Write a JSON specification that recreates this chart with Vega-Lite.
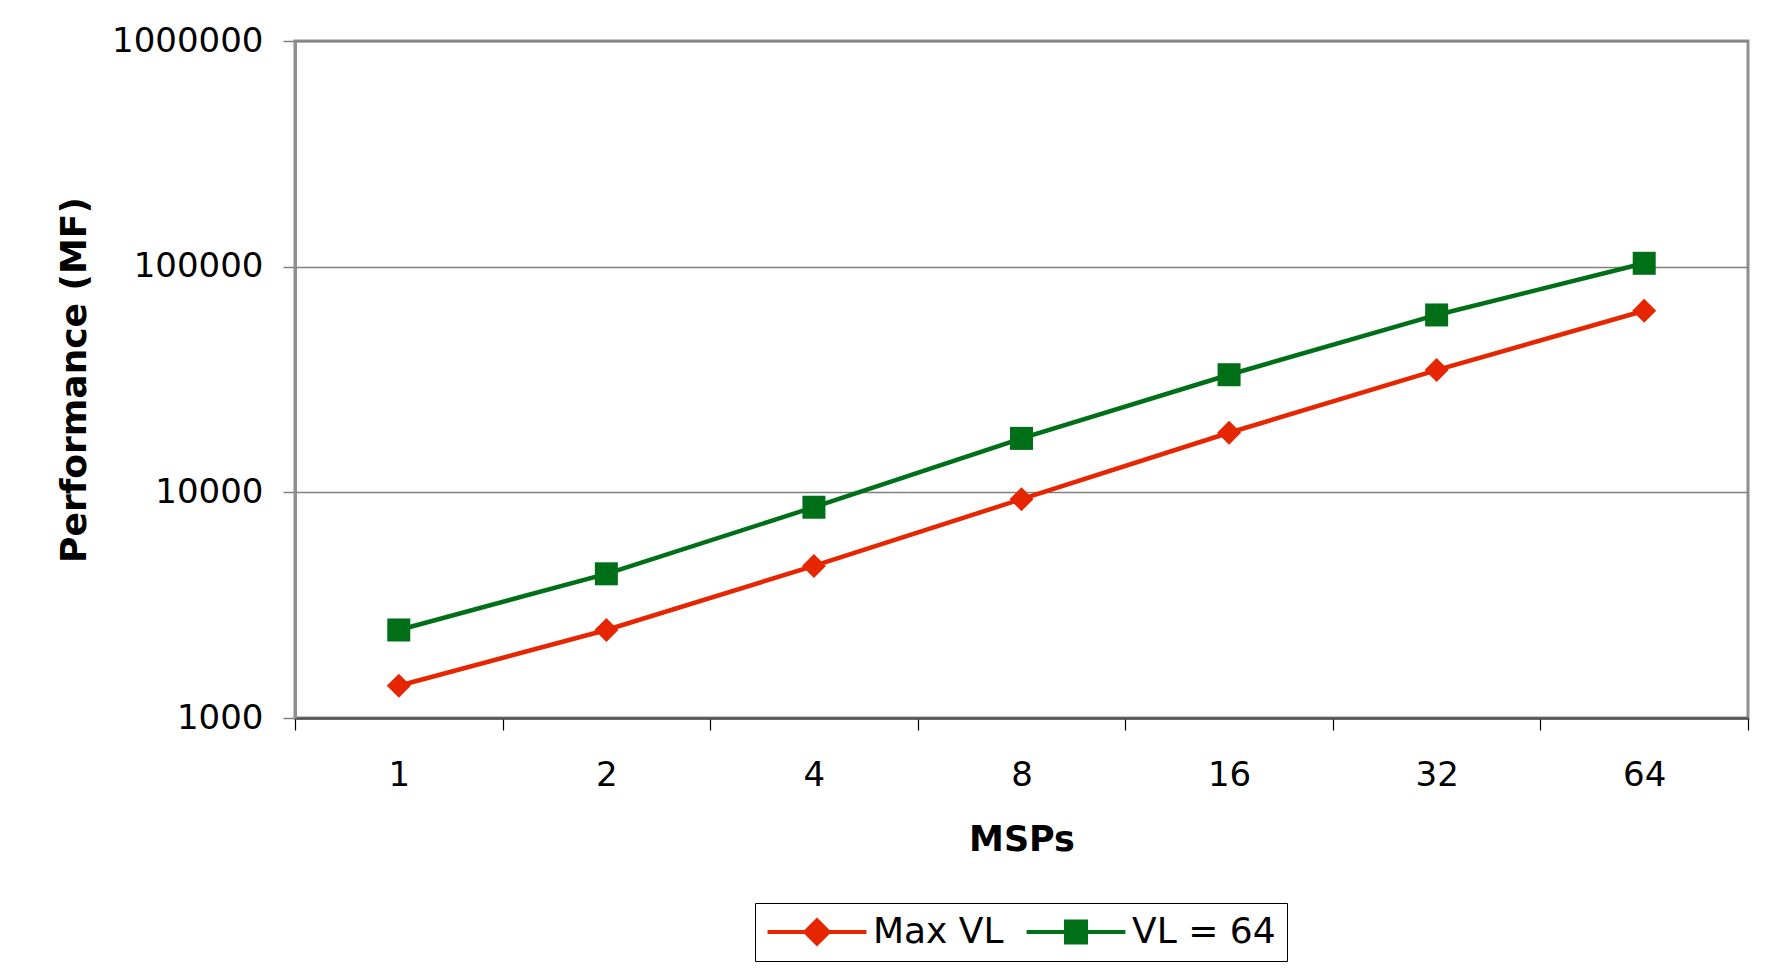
{
  "$schema": "https://vega.github.io/schema/vega-lite/v6.json",
  "width": 1453,
  "height": 677,
  "autosize": {"type": "none"},
  "padding": {"left": 295, "top": 41, "right": 32, "bottom": 251},
  "background": "white",
  "config": {
    "view": {"stroke": "#8f8f8f", "strokeWidth": 3},
    "font": "DejaVu Sans",
    "legend": {
      "orient": "none",
      "legendX": 460,
      "legendY": 862,
      "direction": "horizontal",
      "columns": 2,
      "strokeColor": "black",
      "fillColor": "white",
      "padding": 11,
      "labelFontSize": 36,
      "labelColor": "black",
      "labelFont": "DejaVu Sans",
      "symbolSize": 576,
      "symbolOpacity": 1,
      "symbolStrokeWidth": 0,
      "symbolOffset": 33,
      "labelOffset": 38,
      "columnPadding": 21
    }
  },
  "data": {
    "values": [
      {"msps": 1, "series": "Max VL", "perf": 1390},
      {"msps": 2, "series": "Max VL", "perf": 2455},
      {"msps": 4, "series": "Max VL", "perf": 4720},
      {"msps": 8, "series": "Max VL", "perf": 9330},
      {"msps": 16, "series": "Max VL", "perf": 18370},
      {"msps": 32, "series": "Max VL", "perf": 34800},
      {"msps": 64, "series": "Max VL", "perf": 63800},
      {"msps": 1, "series": "VL = 64", "perf": 2455},
      {"msps": 2, "series": "VL = 64", "perf": 4355},
      {"msps": 4, "series": "VL = 64", "perf": 8590},
      {"msps": 8, "series": "VL = 64", "perf": 17340},
      {"msps": 16, "series": "VL = 64", "perf": 33200},
      {"msps": 32, "series": "VL = 64", "perf": 61100},
      {"msps": 64, "series": "VL = 64", "perf": 103500}
    ]
  },
  "encoding": {
    "x": {
      "field": "msps",
      "type": "ordinal",
      "scale": {"paddingInner": 0, "paddingOuter": 0},
      "axis": {
        "title": "MSPs",
        "titleFontSize": 35,
        "titleFontWeight": "bold",
        "titleColor": "black",
        "titleY": 132,
        "titleBaseline": "alphabetic",
        "labelAngle": 0,
        "labelFontSize": 34,
        "labelColor": "black",
        "labelPadding": 28,
        "tickSize": 12,
        "tickColor": "black",
        "tickWidth": 1.2,
        "tickBand": "extent",
        "domainColor": "#555555",
        "domainWidth": 2.5,
        "grid": false
      }
    },
    "y": {
      "field": "perf",
      "type": "quantitative",
      "scale": {"type": "log", "domain": [1000, 1000000]},
      "axis": {
        "values": [1000, 10000, 100000, 1000000],
        "format": "d",
        "labelFontSize": 34,
        "labelColor": "black",
        "labelPadding": 20,
        "labelFlush": false,
        "labelOverlap": false,
        "tickSize": 12,
        "tickColor": "#808080",
        "tickWidth": 1.5,
        "domainColor": "#8f8f8f",
        "domainWidth": 3,
        "gridColor": "#808080",
        "gridWidth": 1.5,
        "title": "Performance (MF)",
        "titleFontSize": 36,
        "titleFontWeight": "bold",
        "titleColor": "black",
        "titleAngle": 270,
        "titleX": -221,
        "titleAlign": "center",
        "titleBaseline": "middle"
      }
    }
  },
  "layer": [
    {
      "mark": {"type": "point", "filled": true, "opacity": 0},
      "encoding": {
        "color": {
          "field": "series",
          "type": "nominal",
          "scale": {"domain": ["Max VL", "VL = 64"], "range": ["#e62600", "#007018"]},
          "legend": {"title": null}
        },
        "shape": {
          "field": "series",
          "type": "nominal",
          "scale": {
            "domain": ["Max VL", "VL = 64"],
            "range": [
              "M-4.12,-0.17H4.12V0.17H-4.12Z M0,-1.21L1.21,0L0,1.21L-1.21,0Z",
              "M-4.12,-0.17H4.12V0.17H-4.12Z M-1,-1.05H1V1.05H-1Z"
            ]
          },
          "legend": {"title": null}
        }
      }
    },
    {
      "mark": {"type": "line", "strokeWidth": 4.5},
      "encoding": {
        "detail": {"field": "series", "type": "nominal"},
        "color": {"condition": {"test": "datum.series === 'Max VL'", "value": "#e62600"}, "value": "#007018"}
      }
    },
    {
      "mark": {"type": "point", "filled": true, "opacity": 1, "strokeWidth": 0},
      "encoding": {
        "color": {"condition": {"test": "datum.series === 'Max VL'", "value": "#e62600"}, "value": "#007018"},
        "shape": {"condition": {"test": "datum.series === 'Max VL'", "value": "diamond"}, "value": "square"},
        "size": {"condition": {"test": "datum.series === 'Max VL'", "value": 576}, "value": 529}
      }
    }
  ]
}
